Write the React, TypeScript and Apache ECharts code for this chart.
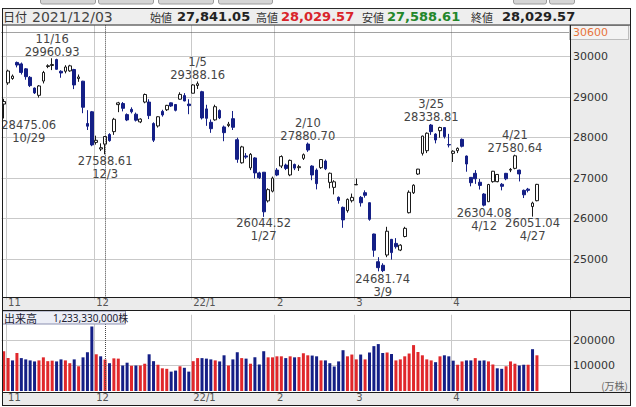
import React, { useEffect, useRef } from "react";
import * as echarts from "echarts";

// ---- data (Nikkei 225 daily, 2021/10/29 - 2022/04/28) ----
const dates = [
  "2021/10/29",
  "2021/11/01", "2021/11/02", "2021/11/04", "2021/11/05", "2021/11/08", "2021/11/09", "2021/11/10", "2021/11/11", "2021/11/12", "2021/11/15",
  "2021/11/16", "2021/11/17", "2021/11/18", "2021/11/19", "2021/11/22", "2021/11/24", "2021/11/25", "2021/11/26", "2021/11/29", "2021/11/30",
  "2021/12/01", "2021/12/02", "2021/12/03", "2021/12/06", "2021/12/07", "2021/12/08", "2021/12/09", "2021/12/10", "2021/12/13", "2021/12/14",
  "2021/12/15", "2021/12/16", "2021/12/17", "2021/12/20", "2021/12/21", "2021/12/22", "2021/12/23", "2021/12/24", "2021/12/27", "2021/12/28",
  "2021/12/29", "2021/12/30",
  "2022/01/04", "2022/01/05", "2022/01/06", "2022/01/07", "2022/01/11", "2022/01/12", "2022/01/13", "2022/01/14", "2022/01/17", "2022/01/18",
  "2022/01/19", "2022/01/20", "2022/01/21", "2022/01/24", "2022/01/25", "2022/01/26", "2022/01/27", "2022/01/28", "2022/01/31",
  "2022/02/01", "2022/02/02", "2022/02/03", "2022/02/04", "2022/02/07", "2022/02/08", "2022/02/09", "2022/02/10", "2022/02/14", "2022/02/15",
  "2022/02/16", "2022/02/17", "2022/02/18", "2022/02/21", "2022/02/22", "2022/02/24", "2022/02/25", "2022/02/28",
  "2022/03/01", "2022/03/02", "2022/03/03", "2022/03/04", "2022/03/07", "2022/03/08", "2022/03/09", "2022/03/10", "2022/03/11", "2022/03/14",
  "2022/03/15", "2022/03/16", "2022/03/17", "2022/03/18", "2022/03/22", "2022/03/23", "2022/03/24", "2022/03/25", "2022/03/28", "2022/03/29",
  "2022/03/30", "2022/03/31",
  "2022/04/01", "2022/04/04", "2022/04/05", "2022/04/06", "2022/04/07", "2022/04/08", "2022/04/11", "2022/04/12", "2022/04/13", "2022/04/14",
  "2022/04/15", "2022/04/18", "2022/04/19", "2022/04/20", "2022/04/21", "2022/04/22", "2022/04/25", "2022/04/26", "2022/04/27", "2022/04/28",
];

const opens = [
  28830,
  29354, 29461, 29858, 29822, 29700, 29491, 29226, 29046, 29399, 29757,
  29782, 29930, 29640, 29640, 29650, 29684, 29460, 29395, 28350, 28640,
  27884, 27720, 27841.05, 28080, 28150, 28817, 28843, 28570, 28700, 28580,
  28390, 28880, 28880, 28350, 28290, 28650, 28690, 28860, 28820, 28950,
  29040, 28830,
  29098, 29288, 29136, 28711, 28380, 28440, 28673, 28265, 28300, 28470,
  27950, 27380, 27550, 27255, 27500, 27130, 27148, 26440, 26680,
  27200, 27300, 27325, 27080, 27340, 27260, 27490, 27843, 27300, 27200,
  27260, 27424, 26897, 26774, 26527, 26280, 26198, 26444,
  26836, 26527, 26642, 26395, 25622, 24938, 24850, 25103, 25490, 25390,
  25226, 25560, 26148, 26640, 27103, 27613, 27679, 28313, 28090, 28173,
  28250, 27830,
  27613, 27679, 27959, 27547, 27020, 27120, 26900, 26609, 26420, 26914,
  26914, 26850, 27120, 27200, 27243, 27200, 26700, 26730, 26300, 26444,
];

const closes = [
  28892.69,
  29647.08, 29520.9, 29794.37, 29611.57, 29507.05, 29285.46, 29106.78, 29277.86, 29609.97, 29776.8,
  29808.12, 29688.33, 29598.66, 29745.87, 29774.11, 29302.66, 29499.28, 28751.62, 28283.92, 27821.76,
  27935.62, 27753.37, 28029.57, 27927.37, 28455.6, 28860.62, 28725.47, 28437.77, 28640.49, 28432.64,
  28459.72, 29066.32, 28545.68, 27937.81, 28517.59, 28562.21, 28798.37, 28782.59, 28676.46, 29069.16,
  28906.88, 28791.71,
  29301.79, 29332.16, 28487.87, 28478.56, 28222.48, 28765.66, 28489.13, 28124.28, 28333.52, 28257.25,
  27467.23, 27772.93, 27522.26, 27588.37, 27131.34, 27011.33, 26170.3, 26717.34, 27001.98,
  27078.48, 27533.6, 27241.31, 27439.99, 27248.87, 27284.52, 27579.87, 27696.08, 27079.59, 26865.19,
  27460.4, 27232.87, 27122.07, 26910.87, 26449.61, 25970.82, 26476.5, 26526.82,
  26844.72, 26393.03, 26577.27, 25985.47, 25221.41, 24790.95, 24717.53, 25690.4, 25162.78, 25307.85,
  25346.48, 25762.01, 26652.89, 26827.43, 27224.11, 28040.16, 28110.39, 28149.84, 27943.89, 28252.42,
  28027.25, 27821.43,
  27665.98, 27736.47, 27787.98, 27350.3, 26888.57, 26985.8, 26821.52, 26334.98, 26843.49, 27172.0,
  27093.19, 26799.71, 26985.09, 27217.85, 27553.06, 27105.26, 26590.78, 26700.11, 26386.63, 26847.9,
];

const lows = [
  28475.06,
  29305, 29430, 29736, 29560, 29431, 29250, 29079, 28990, 29340, 29717,
  29669, 29679, 29480, 29589, 29627, 29200, 29380, 28605, 28190, 27790,
  27830, 27670, 27588.61, 27900, 28070, 28630, 28650, 28410, 28600, 28400,
  28360, 28850, 28460, 27893, 28250, 28520, 28660, 28760, 28650, 28940,
  28900, 28580,
  29098, 29204, 28450, 28293, 28120, 28420, 28460, 27913, 28260, 28190,
  27380, 27360, 27480, 27200, 26990, 26980, 26044.52, 26400, 26650,
  27050, 27250, 27200, 27050, 27200, 27180, 27450, 27650, 26950, 26724,
  27230, 27200, 26750, 26600, 26370, 25775, 26150, 26400,
  26830, 26300, 26520, 25950, 25060, 24700, 24681.74, 25050, 24990, 25260,
  25200, 25540, 26130, 26610, 27080, 27560, 27620, 28070, 27860, 28000,
  27980, 27760,
  27400, 27620, 27760, 27160, 26800, 26860, 26720, 26304.08, 26410, 26890,
  26900, 26700, 26950, 27150, 27220, 26920, 26510, 26650, 26051.04, 26430,
];

const highs = [
  28960,
  29680, 29560, 29880, 29856, 29720, 29522, 29240, 29300, 29650, 29812,
  29960.93, 29950, 29665, 29790, 29800, 29700, 29560, 29405, 28680, 28660,
  28050, 27860, 28029.57, 28110, 28490, 28885, 28880, 28600, 28750, 28620,
  28480, 29090, 28950, 28380, 28530, 28690, 28810, 28870, 28830, 29121,
  29100, 28950,
  29323, 29388.16, 29158, 28813, 28450, 28814, 28700, 28300, 28390, 28660,
  28000, 27800, 27620, 27620, 27520, 27160, 27150, 26750, 27040,
  27250, 27564, 27360, 27460, 27360, 27330, 27610, 27880.7, 27320, 27240,
  27470, 27460, 27140, 26950, 26550, 26300, 26500, 26620,
  26990, 26560, 26700, 26400, 25630, 25050, 24900, 25800, 25500, 25520,
  25370, 25800, 26700, 26850, 27230, 28050, 28130, 28338.81, 28110, 28270,
  28260, 28095,
  27690, 27760, 27980, 27560, 27030, 27200, 26980, 26630, 26860, 27180,
  27100, 26880, 27130, 27250, 27580.64, 27210, 26720, 26760, 26420, 26860,
];

// volume, in 10,000 shares (万株)
const volumes = [
  156000,
  129000, 120000, 149000, 129000, 124000, 120000, 116000, 120000, 132000, 117000,
  119000, 116000, 124000, 120000, 109000, 124000, 97000, 132000, 152000, 253000,
  144000, 136000, 123333, 109000, 128000, 127000, 100000, 111000, 99000, 100000,
  100000, 107000, 144000, 117000, 103000, 89000, 87000, 76000, 80000, 97000,
  91000, 76000,
  117000, 129000, 129000, 127000, 124000, 120000, 116000, 140000, 100000, 124000,
  152000, 129000, 127000, 107000, 132000, 104000, 156000, 132000, 132000,
  136000, 136000, 129000, 136000, 132000, 133000, 148000, 140000, 139000, 136000,
  120000, 120000, 109000, 96000, 116000, 160000, 136000, 143000,
  124000, 143000, 124000, 151000, 176000, 184000, 149000, 151000, 145000, 120000,
  124000, 136000, 147000, 180000, 153000, 140000, 124000, 120000, 113000, 136000,
  140000, 136000,
  119000, 103000, 116000, 120000, 120000, 129000, 119000, 120000, 116000, 104000,
  89000, 87000, 97000, 116000, 107000, 100000, 103000, 103000, 164000, 140000,
];

const prevClose = 28820.09; // 2021/10/28
const emptySlots = 7;
const selectedDate = "2021/12/03";
const crossPrice = 30600;

const highMarks = ["2021/11/16", "2022/01/05", "2022/02/10", "2022/03/25", "2022/04/21"];
const lowMarks = ["2021/10/29", "2021/12/03", "2022/01/27", "2022/03/09", "2022/04/12", "2022/04/27"];

// ---- styling constants ----
const NAVY = "#141f86";
const RED = "#e0272b";
const GRID_LINE = "#c9c9c9";
const FONT = "DejaVu Sans";
const CJK = "Noto Sans CJK JP";

const md = (d: string) => {
  const p = d.split("/");
  return `${+p[1]}/${+p[2]}`;
};
const fmt2 = (v: number) =>
  v.toLocaleString("en-US", { minimumFractionDigits: 2, maximumFractionDigits: 2 });

const isMonthStart = (i: number) =>
  i > 0 && i < dates.length && dates[i].slice(0, 7) !== dates[i - 1].slice(0, 7);
const monthLabel = (v: string) => {
  if (!v) return "";
  const p = v.split("/");
  return p[1] === "01" ? `${p[0].slice(2)}/1` : String(+p[1]);
};

export default function App() {
  const ref = useRef<HTMLDivElement>(null);

  useEffect(() => {
    if (!ref.current) return;
    const chart = echarts.init(ref.current, null, { renderer: "svg" });

    const categories = [...dates, ...Array.from({ length: emptySlots }, () => "")];
    const candleData = dates.map((_, i) => [opens[i], closes[i], lows[i], highs[i]]);
    const volData = dates.map((_, i) => ({
      value: volumes[i],
      itemStyle: { color: closes[i] >= (i > 0 ? closes[i - 1] : prevClose) ? RED : NAVY },
    }));

    const sel = dates.indexOf(selectedDate);

    const marks = [
      ...highMarks.map((d) => {
        const i = dates.indexOf(d);
        return {
          coord: [d, highs[i]],
          value: highs[i],
          label: { position: "top", formatter: `${md(d)}\n${highs[i].toFixed(2)}` },
        };
      }),
      ...lowMarks.map((d) => {
        const i = dates.indexOf(d);
        return {
          coord: [d, lows[i]],
          value: lows[i],
          label: {
            position: "bottom",
            formatter: `${lows[i].toFixed(2)}\n${md(d)}`,
            offset: [i === 0 ? 25 : 0, 0],
          },
        };
      }),
    ];

    const xAxisBase = {
      type: "category",
      data: categories,
      boundaryGap: true,
      axisLine: { show: false },
      axisTick: { show: false },
      splitLine: {
        show: true,
        showMinLine: true,
        showMaxLine: true,
        interval: (idx: number) => isMonthStart(idx),
        lineStyle: { color: GRID_LINE, width: 1 },
      },
    };
    const xLabel = (margin: number) => ({
      interval: (idx: number) => isMonthStart(idx),
      formatter: (v: string) => monthLabel(v),
      align: "left",
      margin,
      fontSize: 10,
      fontFamily: FONT,
      color: "#555",
    });
    const yLabel = {
      showMinLabel: false,
      showMaxLabel: false,
      margin: 3,
      align: "left",
      fontSize: 11,
      fontFamily: FONT,
      color: "#333",
      formatter: (v: number) => String(v),
    };

    const hdrY = 16.8;
    const header = [
      { t: "日付", x: 3, f: CJK, s: 12, w: "normal", c: "#333" },
      { t: selectedDate, x: 32, f: FONT, s: 14, w: "normal", c: "#444" },
      { t: "始値", x: 150, f: CJK, s: 11, w: "normal", c: "#333" },
      { t: fmt2(opens[sel]), x: 177, f: FONT, s: 13, w: "bold", c: "#222" },
      { t: "高値", x: 256, f: CJK, s: 11, w: "normal", c: "#333" },
      { t: fmt2(highs[sel]), x: 281, f: FONT, s: 13, w: "bold", c: "#d9242a" },
      { t: "安値", x: 362, f: CJK, s: 11, w: "normal", c: "#333" },
      { t: fmt2(lows[sel]), x: 387, f: FONT, s: 13, w: "bold", c: "#23862a" },
      { t: "終値", x: 471, f: CJK, s: 11, w: "normal", c: "#333" },
      { t: fmt2(closes[sel]), x: 502, f: FONT, s: 13, w: "bold", c: "#222" },
    ];

    const tabs = [
      [40, 95], [98, 153], [158, 213], [218, 272], [513, 546], [549, 574],
    ];
    const hLines = [297.5, 310.5, 392.5, 405.5];
    const line = (x1: number, y1: number, x2: number, y2: number) => ({
      type: "line",
      shape: { x1, y1, x2, y2 },
      style: { stroke: "#1c1c1c", lineWidth: 1 },
      z: 60,
      silent: true,
    });

    const option: any = {
      animation: false,
      backgroundColor: "#ffffff",
      textStyle: { fontFamily: FONT },
      grid: [
        { left: 1.5, top: 24.3, width: 568.5, height: 275.4 },
        { left: 1.5, top: 314.76, width: 568.5, height: 76.24 },
      ],
      xAxis: [
        { ...xAxisBase, gridIndex: 0, axisLabel: xLabel(-2.2) },
        { ...xAxisBase, gridIndex: 1, axisLabel: xLabel(1) },
      ],
      yAxis: [
        {
          type: "value",
          gridIndex: 0,
          position: "right",
          min: 24000,
          max: 30800,
          interval: 1000,
          axisLine: { show: false },
          axisTick: { show: false },
          axisLabel: yLabel,
          splitLine: {
            show: true,
            showMinLine: false,
            showMaxLine: false,
            lineStyle: { color: GRID_LINE, width: 1 },
          },
        },
        {
          type: "value",
          gridIndex: 1,
          position: "right",
          min: 0,
          max: 299000,
          interval: 100000,
          axisLine: { show: false },
          axisTick: { show: false },
          axisLabel: yLabel,
          splitLine: {
            show: true,
            showMinLine: false,
            showMaxLine: false,
            lineStyle: { color: GRID_LINE, width: 1 },
          },
        },
      ],
      series: [
        {
          type: "candlestick",
          xAxisIndex: 0,
          yAxisIndex: 0,
          data: candleData,
          barWidth: 3.2,
          itemStyle: {
            color: "#ffffff",
            color0: NAVY,
            borderColor: "#1a1a1a",
            borderColor0: NAVY,
            borderWidth: 1,
          },
          markPoint: {
            symbol: "circle",
            symbolSize: 0.1,
            silent: true,
            itemStyle: { color: "rgba(0,0,0,0)" },
            label: {
              show: true,
              distance: 0,
              color: "#444",
              fontSize: 11.5,
              fontFamily: FONT,
              lineHeight: 13,
              align: "center",
            },
            data: marks,
          },
          markLine: {
            silent: true,
            symbol: ["none", "none"],
            lineStyle: { type: "dotted", color: "#444", width: 1 },
            label: { show: false },
            data: [
              { xAxis: selectedDate },
              {
                yAxis: crossPrice,
                label: {
                  show: true,
                  position: "end",
                  distance: 0,
                  formatter: String(crossPrice),
                  color: "#e8743c",
                  fontSize: 11,
                  fontFamily: FONT,
                  backgroundColor: "#f3f3f3",
                  borderColor: "#bdbdbd",
                  borderWidth: 1,
                  padding: [1, 20, 1, 3],
                },
              },
            ],
          },
        },
        {
          type: "bar",
          xAxisIndex: 1,
          yAxisIndex: 1,
          data: volData,
          barWidth: 3,
          markLine: {
            silent: true,
            symbol: ["none", "none"],
            lineStyle: { type: "dotted", color: "#444", width: 1 },
            label: { show: false },
            data: [{ xAxis: selectedDate }],
          },
        },
      ],
      graphic: [
        ...tabs.map(([a, b]) => ({
          type: "rect",
          shape: { x: a + 0.5, y: -3, width: b - a, height: 7, r: 2 },
          style: { fill: "#d5d5d5", stroke: "#9c9c9c", lineWidth: 1 },
          z: 60,
          silent: true,
        })),
        { type: "rect", shape: { x: 2, y: 25, width: 629, height: 381 }, style: { fill: "#ebebeb" }, z: -10, silent: true },
        { type: "rect", shape: { x: 2, y: 25.5, width: 568.5, height: 272 }, style: { fill: "#ffffff" }, z: -9, silent: true },
        { type: "rect", shape: { x: 2, y: 310.5, width: 568.5, height: 82 }, style: { fill: "#ffffff" }, z: -9, silent: true },
        {
          type: "rect",
          shape: { x: 2.5, y: 8.5, width: 628, height: 16.5 },
          style: { fill: "#eeeeee", stroke: "#2a2a2a", lineWidth: 1 },
          z: 55,
          silent: true,
        },
        ...header.map((h) => ({
          type: "text",
          x: h.x,
          y: hdrY,
          style: {
            text: h.t,
            fontFamily: h.f,
            fontSize: h.s,
            fontWeight: h.w,
            fill: h.c,
            verticalAlign: "middle",
            align: "left",
          },
          z: 61,
          silent: true,
        })),
        ...hLines.map((y) => line(2, y, 631, y)),
        line(2.5, 8, 2.5, 406),
        line(630.5, 8, 630.5, 406),
        line(570.5, 25, 570.5, 297.5),
        line(570.5, 310.5, 570.5, 392.5),
        {
          type: "rect",
          shape: { x: 2.5, y: 311, width: 123, height: 13 },
          style: { fill: "#eceef6", stroke: "#8a8fb0", lineWidth: 1 },
          z: 58,
          silent: true,
        },
        {
          type: "text",
          x: 4,
          y: 317.8,
          style: { text: "出来高", fontFamily: CJK, fontSize: 11, fill: "#223", verticalAlign: "middle" },
          z: 61,
          silent: true,
        },
        {
          type: "text",
          x: 53,
          y: 317.8,
          style: {
            text: `${(volumes[sel] * 10000).toLocaleString("en-US")}株`,
            fontFamily: `"Noto Sans", "${CJK}"`,
            fontSize: 10,
            fill: "#223",
            verticalAlign: "middle",
          },
          z: 61,
          silent: true,
        },
        {
          type: "text",
          x: 628,
          y: 385.5,
          style: { text: "(万株)", fontFamily: CJK, fontSize: 10, fill: "#666", align: "right", verticalAlign: "middle" },
          z: 61,
          silent: true,
        },
      ],
    };

    chart.setOption(option);
    return () => chart.dispose();
  }, []);

  return (
    <div
      ref={ref}
      style={{ position: "fixed", left: 0, top: 0, width: 636, height: 407 }}
    />
  );
}
